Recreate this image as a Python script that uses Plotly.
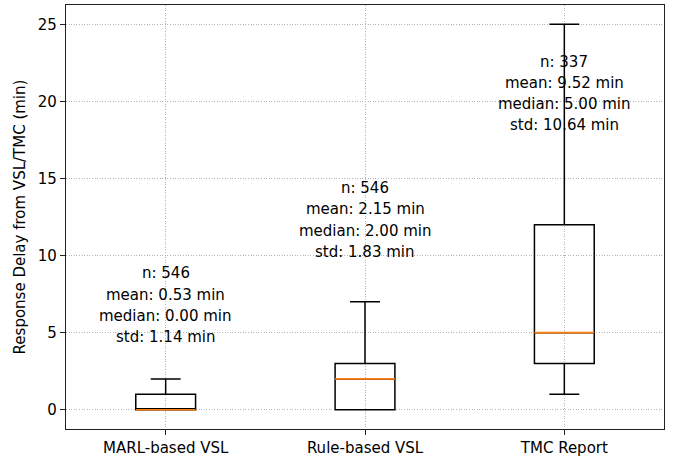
import plotly.graph_objects as go

# ---- data ----
categories = ["MARL-based VSL", "Rule-based VSL", "TMC Report"]
positions = [1, 2, 3]
q1 = [0, 0, 3]
median = [0, 2, 5]
q3 = [1, 3, 12]
lower_whisker = [0, 0, 1]
upper_whisker = [2, 7, 25]

n_obs = [546, 546, 337]
means = [0.53, 2.15, 9.52]
medians_txt = [0.00, 2.00, 5.00]
stds = [1.14, 1.83, 10.64]

# vertical placement (data units) of the first text line of each stats block
text_top = [8.85, 14.38, 22.58]
line_step = 1.38

yticks = [0, 5, 10, 15, 20, 25]

box_width = 0.3
FONT = "DejaVu Sans"
FS = 15

fig = go.Figure()

for i, pos in enumerate(positions):
    fig.add_trace(go.Box(
        x=[pos], q1=[q1[i]], median=[median[i]], q3=[q3[i]],
        lowerfence=[lower_whisker[i]], upperfence=[upper_whisker[i]],
        width=box_width, whiskerwidth=0.5,
        fillcolor="rgba(255,255,255,0)",
        line=dict(color="black", width=1.5),
        boxpoints=False, showlegend=False, hoverinfo="skip",
    ))
    fig.add_trace(go.Scatter(
        x=[pos - box_width / 2, pos + box_width / 2],
        y=[median[i], median[i]],
        mode="lines", line=dict(color="#ff7f0e", width=1.6),
        showlegend=False, hoverinfo="skip",
    ))

annotations = []
for i, pos in enumerate(positions):
    lines = [
        f"n: {n_obs[i]}",
        f"mean: {means[i]:.2f} min",
        f"median: {medians_txt[i]:.2f} min",
        f"std: {stds[i]:.2f} min",
    ]
    for k, t in enumerate(lines):
        annotations.append(dict(
            x=pos, y=text_top[i] - k * line_step, xref="x", yref="y",
            text=t, showarrow=False, xanchor="center", yanchor="middle",
            font=dict(family=FONT, size=FS, color="black"),
        ))

grid = dict(showgrid=True, gridcolor="#b4b4b4", griddash="1px,1.6px", gridwidth=0.8)

fig.update_layout(
    width=678, height=460,
    margin=dict(l=66, r=14, t=5, b=31),
    paper_bgcolor="white", plot_bgcolor="white",
    boxmode="overlay",
    font=dict(family=FONT, size=FS, color="black"),
    annotations=annotations,
    xaxis=dict(
        range=[0.5, 3.5], tickmode="array", tickvals=positions, ticktext=categories,
        showline=True, mirror=True, linecolor="#222222", linewidth=1.2,
        ticks="outside", ticklen=5, tickcolor="#222222", tickwidth=1.1,
        zeroline=False, tickfont=dict(size=FS), automargin=False, **grid,
    ),
    yaxis=dict(
        range=[-1.25, 26.25], tickmode="array", tickvals=yticks,
        showline=True, mirror=True, linecolor="#222222", linewidth=1.2,
        ticks="outside", ticklen=5, tickcolor="#222222", tickwidth=1.1,
        zeroline=False, tickfont=dict(size=FS), automargin=False, **grid,
        title=dict(text="Response Delay from VSL/TMC (min)", font=dict(size=FS), standoff=8),
    ),
)

fig.write_html("out.html", config={"displayModeBar": False},
               post_script="document.body.style.margin='0px';")
